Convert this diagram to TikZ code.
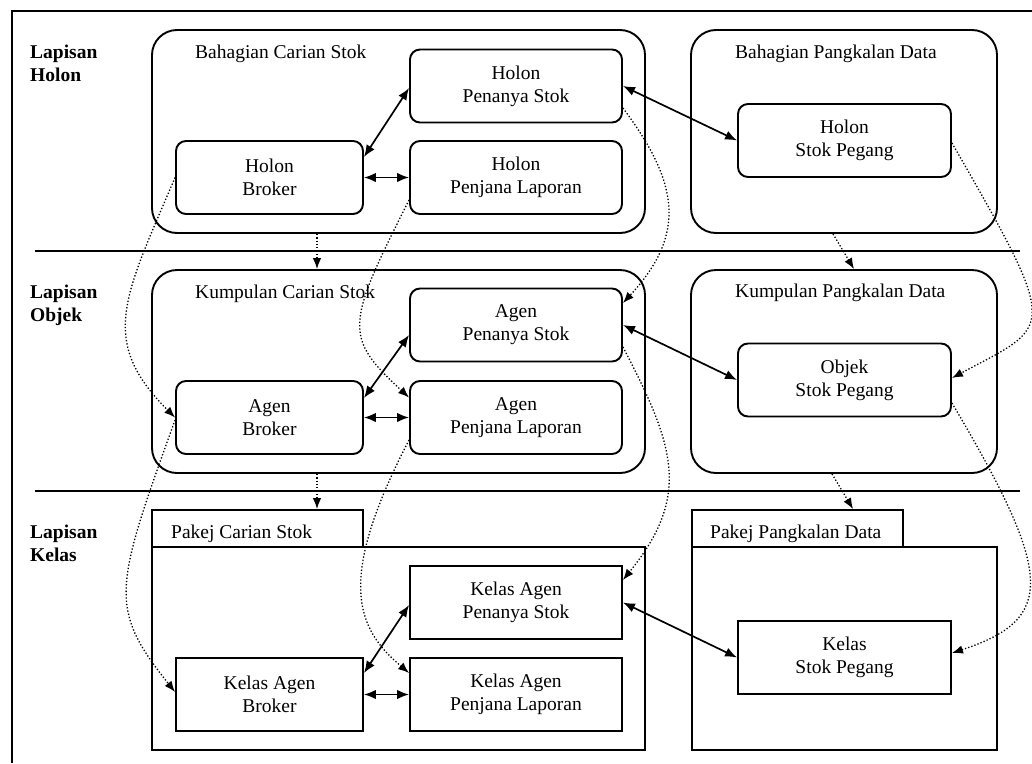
\documentclass[tikz,border=0pt]{standalone}
\usepackage{fontspec}
\setmainfont{Liberation Serif}
\usetikzlibrary{calc,
	positioning,
	arrows.meta}
\tikzstyle{grp}=[draw, line width=1.9pt, rounded corners=25pt, inner sep=0]
\tikzstyle{hol}=[draw, line width=1.9pt, rounded corners=10pt, align=center, minimum height=73pt, inner sep=0]
\tikzstyle{cls}=[draw, line width=1.9pt, align=center, minimum height=73pt, inner sep=0]
\tikzstyle{pkg}=[draw, line width=1.9pt, inner sep=0]
\tikzstyle{ttl}=[anchor=base west, inner sep=0]
\tikzstyle{lyr}=[anchor=base west, align=left, inner sep=0, font=\fontsize{19.5}{22.5}\selectfont\bfseries]
\tikzstyle{sepline}=[line width=1.6pt]
\tikzstyle{assoc}=[line width=1.7pt, {Latex[length=12pt,width=9.5pt]}-{Latex[length=12pt,width=9.5pt]}]
\tikzstyle{trace}=[line width=1.3pt, dash pattern=on 1.3pt off 2pt, -{Latex[length=11pt,width=8.5pt]}]

\begin{document}
\begin{tikzpicture}[x=1pt, y=-1pt, font=\fontsize{19.5}{23}\selectfont]
\useasboundingbox (0,0) rectangle (1032,763);
\draw[line width=2pt] (1032,11) -| (12,763);
\draw[sepline] (35,251) -- (1020,251);
\draw[sepline] (35,491) -- (1020,491);

\node[lyr] (lh) at (30,81) {Lapisan\\Holon};
\node[lyr] (lo) at (30,321) {Lapisan\\Objek};
\node[lyr] (lk) at (30,561) {Lapisan\\Kelas};

\node[grp, minimum width=493pt, minimum height=203pt] (bcs) at (398.5,131.5) {};
\node[grp, minimum width=306pt, minimum height=203pt] (bpd) at (844,131.5) {};
\node[ttl] (bcsT) at (195,58) {Bahagian Carian Stok};
\node[ttl] (bpdT) at (735,58) {Bahagian Pangkalan Data};
\node[hol, minimum width=212pt] (hps) at (516,86) {Holon\\Penanya Stok};
\node[hol, minimum width=187pt] (hb) at (269.5,177.5) {Holon\\Broker};
\node[hol, minimum width=212pt] (hpl) at (516,177.5) {Holon\\Penjana Laporan};
\node[hol, minimum width=213pt] (hsp) at (844.5,140.5) {Holon\\Stok Pegang};

\node[grp, minimum width=493pt, minimum height=203pt] (kcs) at (398.5,371.5) {};
\node[grp, minimum width=306pt, minimum height=203pt] (kpd) at (844,371.5) {};
\node[ttl] (kcsT) at (195,298) {Kumpulan Carian Stok};
\node[ttl] (kpdT) at (735,297) {Kumpulan Pangkalan Data};
\node[hol, minimum width=212pt] (aps) at (516,325) {Agen\\Penanya Stok};
\node[hol, minimum width=187pt] (ab) at (269.5,417.5) {Agen\\Broker};
\node[hol, minimum width=212pt] (apl) at (516,417.5) {Agen\\Penjana Laporan};
\node[hol, minimum width=213pt] (osp) at (844.5,380) {Objek\\Stok Pegang};

\node[pkg, minimum width=211pt, minimum height=37pt] (pcstab) at (257.5,528.5) {};
\node[pkg, minimum width=493pt, minimum height=203pt] (pcs) at (398.5,648.5) {};
\node[pkg, minimum width=211pt, minimum height=37pt] (ppdtab) at (797.5,528.5) {};
\node[pkg, minimum width=305pt, minimum height=203pt] (ppd) at (844.5,648.5) {};
\node[ttl] (pcsT) at (171,538) {Pakej Carian Stok};
\node[ttl] (ppdT) at (710,538) {Pakej Pangkalan Data};
\node[cls, minimum width=212pt] (kaps) at (516,602.5) {Kelas Agen\\Penanya Stok};
\node[cls, minimum width=187pt] (kab) at (269.5,694.5) {Kelas Agen\\Broker};
\node[cls, minimum width=212pt] (kapl) at (516,694.5) {Kelas Agen\\Penjana Laporan};
\node[cls, minimum width=213pt] (ksp) at (844.5,657.5) {Kelas\\Stok Pegang};

\draw[assoc] ([yshift=20.5pt]hb.east) -- ([yshift=-2pt]hps.west);
\draw[assoc] (hb.east) -- (hpl.west);
\draw[assoc] (hps.east) -- (hsp.west);
\draw[assoc] ([yshift=19.5pt]ab.east) -- ([yshift=-10pt]aps.west);
\draw[assoc] (ab.east) -- (apl.west);
\draw[assoc] (aps.east) -- (osp.west);
\draw[assoc] ([yshift=21.5pt]kab.east) -- ([yshift=-2.5pt]kaps.west);
\draw[assoc] (kab.east) -- (kapl.west);
\draw[assoc] (kaps.east) -- (ksp.west);

\draw[trace] ([xshift=-81.5pt]bcs.south) -- ([xshift=-81.5pt]kcs.north);
\draw[trace] ([xshift=-11pt]bpd.south) -- ([xshift=10pt]kpd.north);
\draw[trace] ([xshift=-81.5pt]kcs.south) -- ([xshift=59.5pt]pcstab.north);
\draw[trace] ([xshift=-12pt]kpd.south) -- ([xshift=55.5pt]ppdtab.north);

\draw[trace] (hb.west) .. controls +(-51,120) and +(-77,-77) .. (ab.west);
\draw[trace] ([yshift=-22.5pt]hpl.west) .. controls +(-63,125) and +(-66,-61) .. ([yshift=20pt]apl.west);
\draw[trace] ([yshift=-22pt]hps.east) .. controls +(56,75) and +(64,-69) .. ([yshift=22pt]aps.east);
\draw[trace] ([yshift=-2.5pt]hsp.east) .. controls +(110,191) and +(101,-54) .. ([yshift=2pt]osp.east);
\draw[trace] ([yshift=-2.5pt]ab.west) .. controls +(-61,169) and +(-67,-84) .. ([yshift=2.5pt]kab.west);
\draw[trace] ([yshift=-22.5pt]apl.west) .. controls +(-74,142) and +(-52,-44) .. ([yshift=21.5pt]kapl.west);
\draw[trace] ([yshift=-22pt]aps.east) .. controls +(51,98) and +(69,-85) .. ([yshift=22.5pt]kaps.east);
\draw[trace] ([yshift=-23pt]osp.east) .. controls +(102,172) and +(104,-34) .. ([yshift=4.5pt]ksp.east);
\end{tikzpicture}
\end{document}
